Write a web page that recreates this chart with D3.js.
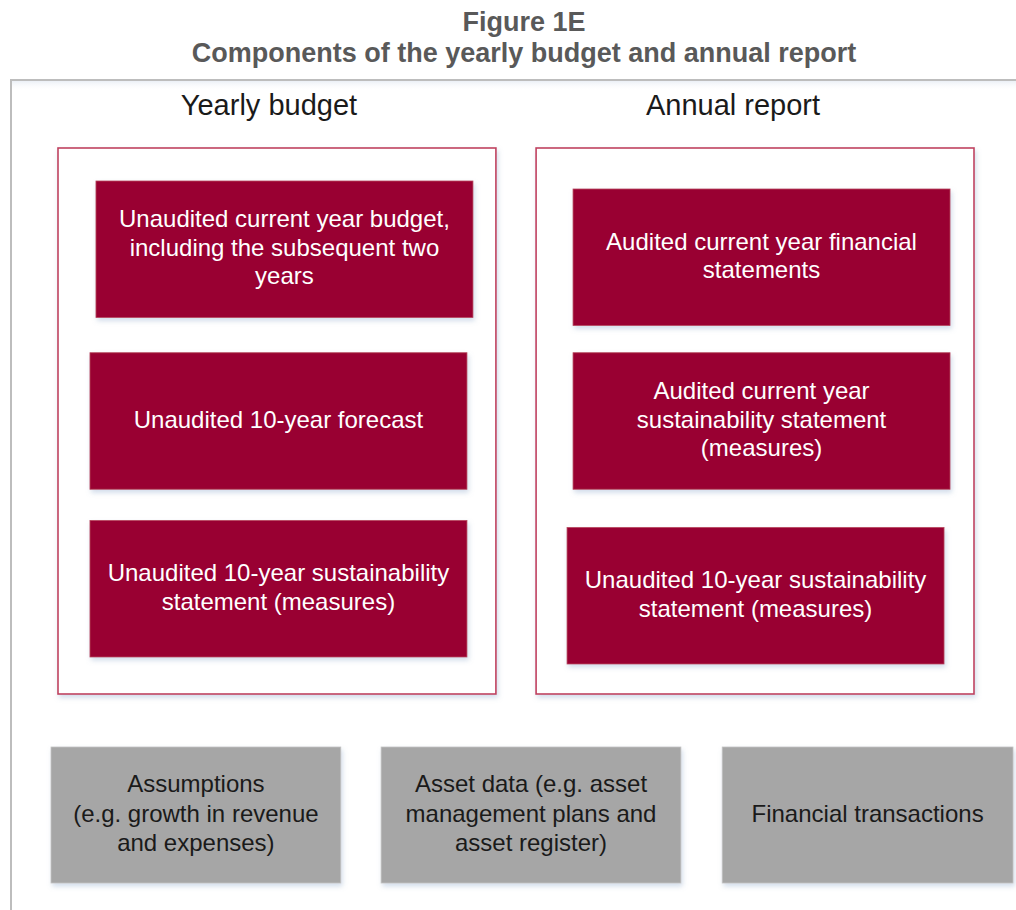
<!DOCTYPE html>
<html>
<head>
<meta charset="utf-8">
<script src="https://cdn.jsdelivr.net/npm/d3@7"></script>
<style>
  html, body { margin: 0; padding: 0; background: #fff; }
  svg { display: block; font-family: "Liberation Sans", Arial, sans-serif; }
</style>
</head>
<body>
<div id="chart"></div>
<script>
// Figure 1E - components of the yearly budget and annual report

const titleLines = ['Figure 1E', 'Components of the yearly budget and annual report'];
const panels = ['Yearly budget', 'Annual report'];

const budgetItems = [
    ['Unaudited current year budget,', 'including the subsequent two', 'years'],
    ['Unaudited 10-year forecast'],
    ['Unaudited 10-year sustainability', 'statement (measures)']
];
const reportItems = [
    ['Audited current year financial', 'statements'],
    ['Audited current year', 'sustainability statement', '(measures)'],
    ['Unaudited 10-year sustainability', 'statement (measures)']
];
const inputItems = [
    ['Assumptions', '(e.g. growth in revenue', 'and expenses)'],
    ['Asset data (e.g. asset', 'management plans and', 'asset register)'],
    ['Financial transactions']
];

const width = 1016, height = 910;
const red = '#990030', redLine = '#c0415f', grey = '#a6a6a6';

// the original boxes were placed by hand, so they sit a little off the grid
const headingNudge = [-8, -22];
const boxNudge = [
    [[7.5, -2], [1.5, -1], [1.5, -4]],
    [[6.5, 6], [6.5, -1], [0.5, 3]]
];
const inputNudge = [[0, -3], [-4.5, 7], [2, -2]];   // [dx, extra width]

var svg = d3.select('#chart')
    .append('svg')
    .attr('width', width)
    .attr('height', height);

// soft bluish shadow under every box
var defs = svg.append('defs');
defs.append('filter')
    .attr('id', 'shadow')
    .attr('x', '-10%').attr('y', '-10%')
    .attr('width', '120%').attr('height', '130%')
    .append('feDropShadow')
    .attr('dx', 1.5).attr('dy', 3)
    .attr('stdDeviation', 2.5)
    .attr('flood-color', '#7f9cc4')
    .attr('flood-opacity', 0.35);

var frameGrad = defs.append('linearGradient')
    .attr('id', 'frame-glow')
    .attr('x1', 0).attr('y1', 0).attr('x2', 0).attr('y2', 1);
frameGrad.append('stop').attr('offset', 0).attr('stop-color', '#e9eef5').attr('stop-opacity', 0.9);
frameGrad.append('stop').attr('offset', 1).attr('stop-color', '#ffffff').attr('stop-opacity', 0);

// title
svg.append('g')
    .selectAll('text')
    .data(titleLines)
    .join('text')
    .attr('x', 524)
    .attr('y', (d, i) => 31 + i * 31)
    .attr('text-anchor', 'middle')
    .attr('font-size', '27px')
    .attr('font-weight', 'bold')
    .attr('fill', '#595959')
    .text(d => d);

// outer frame, runs off the right and bottom of the picture
svg.append('rect')
    .attr('x', 12).attr('y', 81)
    .attr('width', width).attr('height', 10)
    .attr('fill', 'url(#frame-glow)');

svg.append('rect')
    .attr('x', 11).attr('y', 80)
    .attr('width', width + 40).attr('height', height)
    .attr('fill', 'none')
    .attr('stroke', '#bdbdbd')
    .attr('stroke-width', 2);

// scales
var panelX = d3.scaleBand()
    .domain(panels)
    .range([58, 974])
    .paddingInner(0.084);

var rowY = d3.scaleBand()
    .domain(d3.range(3))
    .range([183, 661])
    .paddingInner(0.2);

var inputX = d3.scaleBand()
    .domain(d3.range(inputItems.length))
    .range([51, 1013])
    .paddingInner(0.125);

const panelTop = 148, panelBottom = 694;
const boxW = 377;
const inputTop = 747, inputH = 136;

function addLines(sel, lines, cx, cy, lh, color) {
    let first = cy - (lines.length - 1) / 2 * lh + 8.6;
    sel.append('text')
        .attr('text-anchor', 'middle')
        .attr('font-size', '24px')
        .attr('fill', color)
        .selectAll('tspan')
        .data(lines)
        .join('tspan')
        .attr('x', cx)
        .attr('y', (d, i) => first + i * lh)
        .text(d => d);
}

// panels
var panelG = svg.append('g')
    .selectAll('.panel')
    .data(panels)
    .join('g')
    .classed('panel', true);

panelG.append('rect')
    .attr('x', d => panelX(d))
    .attr('y', panelTop)
    .attr('width', panelX.bandwidth())
    .attr('height', panelBottom - panelTop)
    .attr('fill', '#fff')
    .attr('stroke', redLine)
    .attr('stroke-width', 1.6)
    .attr('filter', 'url(#shadow)');

panelG.append('text')
    .attr('x', (d, i) => panelX(d) + panelX.bandwidth() / 2 + headingNudge[i])
    .attr('y', 115)
    .attr('text-anchor', 'middle')
    .attr('font-size', '29px')
    .attr('fill', '#1a1a1a')
    .text(d => d);

// red boxes inside each panel
[budgetItems, reportItems].forEach((items, p) => {
    let cxPanel = panelX(panels[p]) + panelX.bandwidth() / 2;
    items.forEach((lines, r) => {
        let [dx, dy] = boxNudge[p][r];
        let x = cxPanel - boxW / 2 + dx;
        let y = rowY(r) + dy;
        let g = svg.append('g').classed('item', true);
        g.append('rect')
            .attr('x', x).attr('y', y)
            .attr('width', boxW)
            .attr('height', rowY.bandwidth())
            .attr('fill', red)
            .attr('stroke', '#b8485f')
            .attr('stroke-width', 0.8)
            .attr('filter', 'url(#shadow)');
        addLines(g, lines, x + boxW / 2, y + rowY.bandwidth() / 2 - 2, 28.5, '#fff');
    });
});

// grey input boxes along the bottom
inputItems.forEach((lines, i) => {
    let [dx, dw] = inputNudge[i];
    let x = inputX(i) + dx;
    let w = inputX.bandwidth() + dw;
    let g = svg.append('g').classed('input', true);
    g.append('rect')
        .attr('x', x).attr('y', inputTop)
        .attr('width', w).attr('height', inputH)
        .attr('fill', grey)
        .attr('stroke', '#c4c4c4')
        .attr('stroke-width', 0.8)
        .attr('filter', 'url(#shadow)');
    addLines(g, lines, x + w / 2, inputTop + inputH / 2 - 2, 29.5, '#1a1a1a');
});
</script>
</body>
</html>
